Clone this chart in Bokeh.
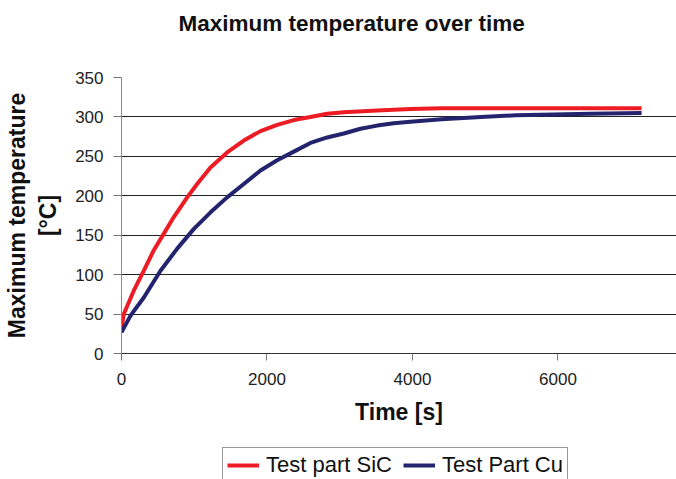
from bokeh.plotting import figure
from bokeh.layouts import column
from bokeh.models import Range1d, Legend, LegendItem, SingleIntervalTicker, Title
from bokeh.embed import file_html
from bokeh.resources import INLINE

# Data
time_sic = [0, 32, 170, 307, 444, 582, 719, 903, 1040, 1223, 1452, 1681, 1911,
            2140, 2369, 2598, 2827, 3056, 3514, 3973, 4400, 5000, 6000, 7150]
temp_sic = [33, 50, 80, 105, 131, 152, 173, 198, 215, 236, 255, 270, 282,
            290, 296, 300, 304, 306, 308, 310, 311, 311, 311, 311]

time_cu = [0, 124, 307, 536, 766, 995, 1224, 1452, 1681, 1911, 2140, 2369,
           2598, 2827, 3056, 3285, 3514, 3743, 3973, 4400, 4940, 5420, 6450, 7150]
temp_cu = [27, 48, 71, 105, 133, 158, 179, 198, 215, 232, 245, 256,
           267, 274, 279, 285, 289, 292, 294, 297, 300, 302, 304, 305]

label_sic = "Test part SiC"
label_cu = "Test Part Cu"
title_text = "Maximum temperature over time"
x_label = "Time [s]"
y_label = "Maximum temperature\n[°C]"

FONT = "Liberation Sans"
RED = "#ED1C24"
NAVY = "#24246E"

p = figure(width=676, height=440, output_backend="svg", toolbar_location=None,
           x_range=Range1d(0, 7630), y_range=Range1d(0, 350),
           min_border_left=120, min_border_right=0, min_border_top=77,
           min_border_bottom=87)
p.outline_line_color = None
p.background_fill_color = "white"
p.border_fill_color = "white"

# spacer between title and frame, then the title itself
p.add_layout(Title(text=" ", text_font_size="2px", standoff=33), "above")
p.add_layout(Title(text=title_text, text_font=FONT, text_font_size="22.5px",
                   text_font_style="bold", text_color="#111111",
                   align="left", offset=57, standoff=10), "above")

p.line(time_sic, temp_sic, line_color=RED, line_width=4)
p.line(time_cu, temp_cu, line_color=NAVY, line_width=4)

p.xgrid.grid_line_color = None
p.ygrid.grid_line_color = "#222222"
p.ygrid.grid_line_width = 1
p.ygrid.ticker = SingleIntervalTicker(interval=50)

p.yaxis.ticker = SingleIntervalTicker(interval=50)
p.xaxis.ticker = SingleIntervalTicker(interval=2000)

for ax in (p.xaxis[0], p.yaxis[0]):
    ax.major_label_text_font = FONT
    ax.major_label_text_font_size = "17px"
    ax.major_label_text_color = "#222222"
    ax.axis_label_text_font = FONT
    ax.axis_label_text_font_size = "23px"
    ax.axis_label_text_font_style = "bold"
    ax.axis_label_text_color = "#111111"
    ax.minor_tick_line_color = None
    ax.major_tick_in = 0
    ax.major_tick_line_color = "#777777"
    ax.axis_line_color = "#888888"

p.xaxis.major_tick_out = 7
p.yaxis.major_tick_out = 8
p.xaxis.axis_line_color = "#333333"
p.xaxis.axis_label = x_label
p.yaxis.axis_label = y_label
p.xaxis.major_label_standoff = 12
p.yaxis.major_label_standoff = 10
p.xaxis.axis_label_standoff = 11
p.yaxis.axis_label_standoff = 11

# legend strip below the chart (its series lie outside this strip's ranges)
q = figure(width=676, height=39, output_backend="svg", toolbar_location=None,
           x_range=Range1d(0, 1), y_range=Range1d(0, 1),
           x_axis_type=None, y_axis_type=None,
           min_border_left=0, min_border_right=0, min_border_top=0,
           min_border_bottom=0)
q.outline_line_color = None
q.xgrid.visible = False
q.ygrid.visible = False
k1 = q.line(time_sic, temp_sic, line_color=RED, line_width=4)
k2 = q.line(time_cu, temp_cu, line_color=NAVY, line_width=4)

legend = Legend(items=[LegendItem(label=label_sic, renderers=[k1]),
                       LegendItem(label=label_cu, renderers=[k2])],
                orientation="horizontal", location=(101, -4),
                label_text_font=FONT, label_text_font_size="22px",
                label_text_color="#111111",
                border_line_color="#333333", border_line_width=1,
                background_fill_alpha=1.0, glyph_width=32, glyph_height=26,
                label_standoff=7, spacing=11, padding=4, margin=0)
q.add_layout(legend, "center")

layout = column(p, q, spacing=0)
open("out.html", "w").write(file_html(layout, INLINE))
